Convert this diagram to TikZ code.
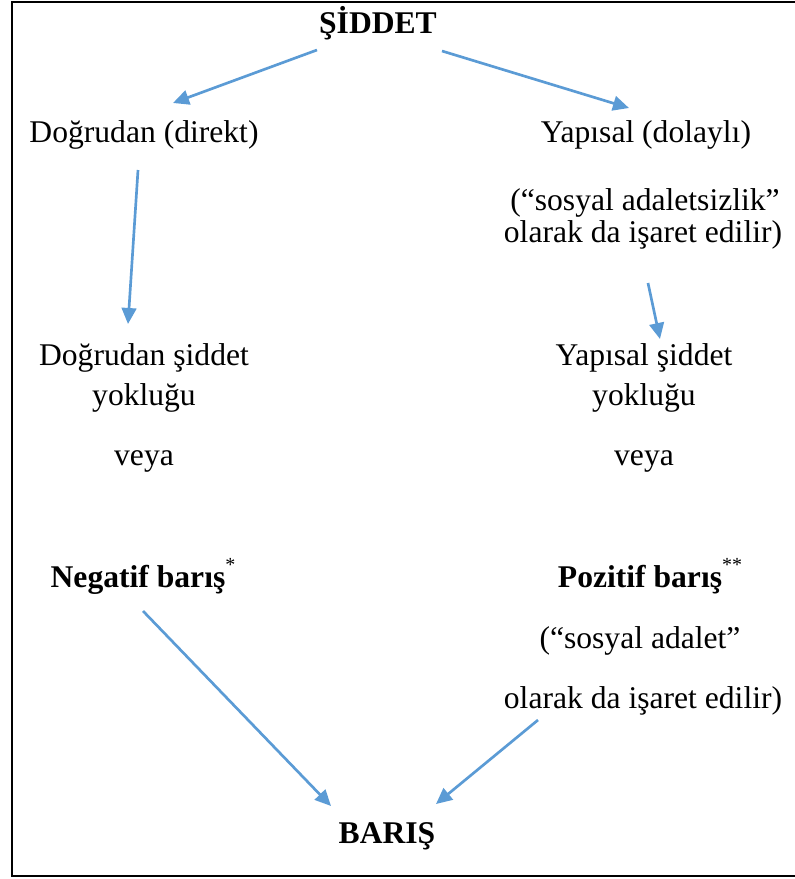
\documentclass[tikz,border=0pt]{standalone}
\usepackage{fontspec}
\setmainfont{Liberation Serif}
\usetikzlibrary{arrows.meta}
\definecolor{arrowblue}{HTML}{5B9BD5}
\begin{document}
\begin{tikzpicture}[x=0.75pt,y=-0.75pt,
  txt/.style={inner sep=0pt, anchor=base, font=\fontsize{23.7pt}{28pt}\selectfont},
  bld/.style={txt, font=\fontsize{23.7pt}{28pt}\selectfont\bfseries},
  conn/.style={draw=arrowblue, line width=2pt, -{Triangle[length=12pt,width=11pt]}},
  frame/.style={draw=black, line width=2pt}]
\useasboundingbox (0,0) rectangle (795,879);
\draw[frame] (12,2) rectangle (805,876);

\node[bld] (siddet) at (378,33) {ŞİDDET};
\node[txt] (dog) at (144,142) {Doğrudan (direkt)};
\node[txt] (yap) at (646,142) {Yapısal (dolaylı)};
\node[txt] (yap2) at (645,210) {(“sosyal adaletsizlik”};
\node[txt] (yap3) at (643,242) {olarak da işaret edilir)};

\node[txt] (dsy1) at (144,365) {Doğrudan şiddet};
\node[txt] (dsy2) at (144,405) {yokluğu};
\node[txt] (dsy3) at (144,465) {veya};
\node[txt] (ysy1) at (644,365) {Yapısal şiddet};
\node[txt] (ysy2) at (644,405) {yokluğu};
\node[txt] (ysy3) at (644,465) {veya};

\node[bld] (neg) at (143,587) {Negatif barış\raisebox{0.5em}{\fontsize{15pt}{15pt}\selectfont\mdseries *}};
\node[bld] (poz) at (650,587) {Pozitif barış\raisebox{0.5em}{\fontsize{15pt}{15pt}\selectfont\mdseries **}};
\node[txt] (poz2) at (640,648) {(“sosyal adalet”};
\node[txt] (poz3) at (643,708) {olarak da işaret edilir)};

\node[bld] (baris) at (387,843) {BARIŞ};

\coordinate (a1s) at (317,50);  \coordinate (a1e) at (173,103);
\coordinate (a2s) at (442,51);  \coordinate (a2e) at (629,108);
\coordinate (a3s) at (138,170); \coordinate (a3e) at (128,324);
\coordinate (a4s) at (648,283); \coordinate (a4e) at (660,339);
\coordinate (a5s) at (143,611); \coordinate (a5e) at (331,806);
\coordinate (a6s) at (538,720); \coordinate (a6e) at (436,804);

\draw[conn] (a1s) -- (a1e);
\draw[conn] (a2s) -- (a2e);
\draw[conn] (a3s) -- (a3e);
\draw[conn] (a4s) -- (a4e);
\draw[conn] (a5s) -- (a5e);
\draw[conn] (a6s) -- (a6e);
\end{tikzpicture}
\end{document}
